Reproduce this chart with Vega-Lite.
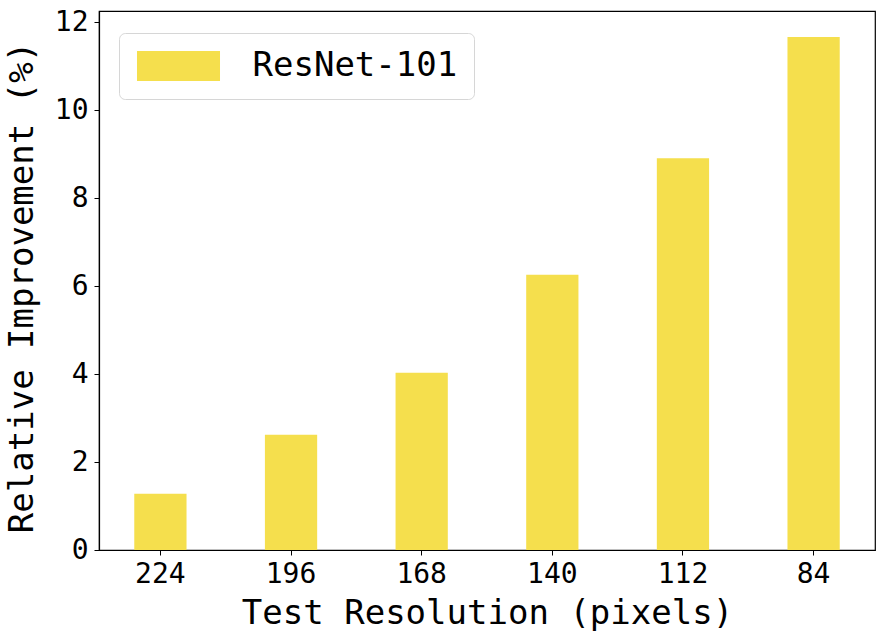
{
  "$schema": "https://vega.github.io/schema/vega-lite/v6.json",
  "width": 776,
  "height": 539,
  "autosize": "none",
  "padding": {"left": 99, "top": 11, "right": 8, "bottom": 92},
  "background": "white",
  "config": {
    "view": {"stroke": "black", "strokeWidth": 1.2},
    "font": "DejaVu Sans Mono",
    "axis": {
      "domainColor": "black",
      "domainWidth": 1.2,
      "tickColor": "black",
      "tickSize": 5,
      "tickWidth": 1,
      "labelColor": "black",
      "titleColor": "black",
      "labelFont": "DejaVu Sans Mono",
      "titleFont": "DejaVu Sans Mono",
      "labelFontSize": 28,
      "titleFontSize": 34,
      "titleFontWeight": "normal",
      "grid": false
    }
  },
  "data": {
    "values": [
      {"resolution": "224", "improvement": 1.28, "model": "ResNet-101"},
      {"resolution": "196", "improvement": 2.62, "model": "ResNet-101"},
      {"resolution": "168", "improvement": 4.03, "model": "ResNet-101"},
      {"resolution": "140", "improvement": 6.26, "model": "ResNet-101"},
      {"resolution": "112", "improvement": 8.91, "model": "ResNet-101"},
      {"resolution": "84", "improvement": 11.67, "model": "ResNet-101"}
    ]
  },
  "mark": {"type": "bar"},
  "encoding": {
    "x": {
      "field": "resolution",
      "type": "ordinal",
      "sort": null,
      "scale": {"paddingInner": 0.6, "paddingOuter": 0.27},
      "axis": {
        "title": "Test Resolution (pixels)",
        "labelAngle": 0,
        "labelPadding": 5,
        "titlePadding": 8
      }
    },
    "y": {
      "field": "improvement",
      "type": "quantitative",
      "scale": {"domain": [0, 12.26], "nice": false, "zero": true},
      "axis": {
        "title": "Relative Improvement (%)",
        "values": [0, 2, 4, 6, 8, 10, 12],
        "labelPadding": 6,
        "titlePadding": 15,
        "titleY": 276
      }
    },
    "color": {
      "field": "model",
      "type": "nominal",
      "scale": {"range": ["#F5DF4D"]},
      "legend": {
        "title": null,
        "orient": "none",
        "legendX": 20,
        "legendY": 22,
        "symbolType": "M-2.767,-1H2.767V1H-2.767Z",
        "symbolSize": 900,
        "symbolOffset": 26.5,
        "symbolStrokeWidth": 0,
        "symbolOpacity": 1,
        "labelFont": "DejaVu Sans Mono",
        "labelFontSize": 34,
        "labelColor": "black",
        "labelOffset": 57,
        "padding": 16,
        "fillColor": "white",
        "strokeColor": "#d6d6d6",
        "cornerRadius": 6,
        "labelLimit": 400
      }
    }
  }
}
